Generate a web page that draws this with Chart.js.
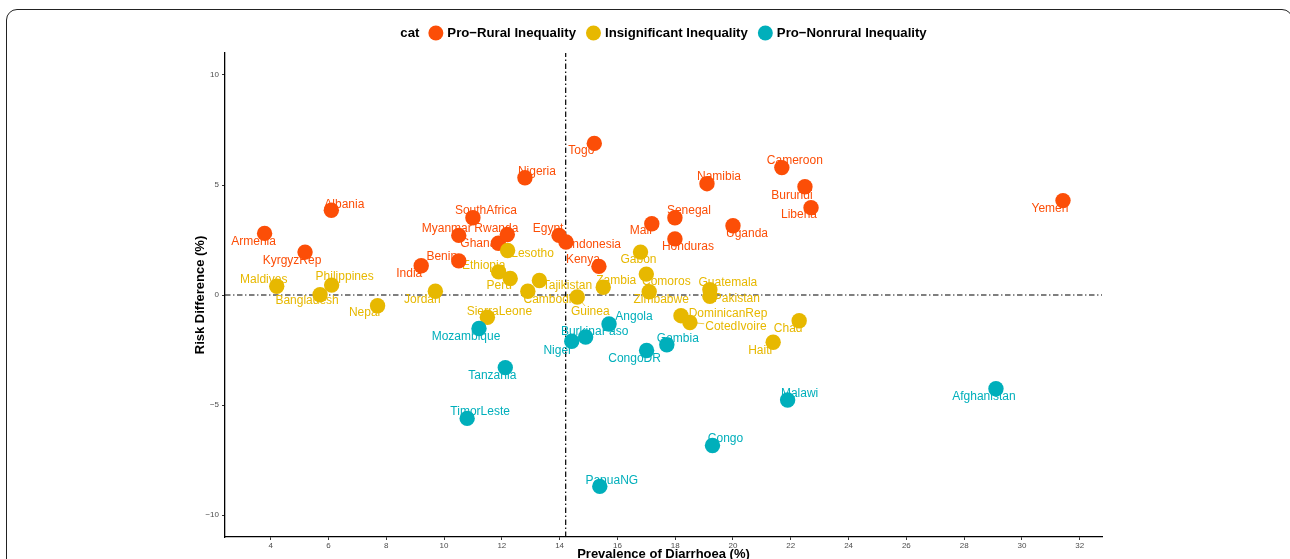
<!DOCTYPE html>
<html>
<head>
<meta charset="utf-8">
<title>Risk difference vs prevalence of diarrhoea</title>
<script src="https://cdn.jsdelivr.net/npm/chart.js@4.4.1/dist/chart.umd.min.js"></script>
<style>
  html, body { margin: 0; padding: 0; background: #fff; overflow: hidden; }
  #wrap { position: relative; width: 1290px; height: 559px; overflow: hidden; }
  #frame { position: absolute; left: 6px; top: 9px; width: 1287px; height: 620px;
           border: 1.5px solid #222; border-radius: 11px; box-sizing: border-box; }
  #chart { position: absolute; left: 0; top: 0; }
</style>
</head>
<body>
<div id="wrap">
  <div id="frame"></div>
  <canvas id="chart" width="1290" height="559"></canvas>
</div>
<script>
// ---- data ----------------------------------------------------------------
const categoryTitle = 'cat';
const categories = ['Pro−Rural Inequality', 'Insignificant Inequality', 'Pro−Nonrural Inequality'];

const ruralCountries  = ['Armenia', 'KyrgyzRep', 'Albania', 'India', 'Benin', 'Myanmar', 'SouthAfrica', 'Ghana',
                         'Rwanda', 'Nigeria', 'Egypt', 'Indonesia', 'Togo', 'Kenya', 'Mali', 'Senegal', 'Honduras',
                         'Namibia', 'Uganda', 'Cameroon', 'Burundi', 'Liberia', 'Yemen'];
const ruralPrevalence = [3.79, 5.19, 6.10, 9.21, 10.51, 10.51, 11.00, 11.88,
                         12.19, 12.80, 13.98, 14.22, 15.20, 15.36, 17.19, 17.99, 17.99,
                         19.10, 20.00, 21.69, 22.49, 22.70, 31.42];
const ruralRiskDiff   = [2.80, 1.95, 3.85, 1.33, 1.55, 2.71, 3.51, 2.35,
                         2.75, 5.33, 2.71, 2.41, 6.89, 1.30, 3.24, 3.51, 2.55,
                         5.06, 3.15, 5.79, 4.92, 3.97, 4.29];

const insigCountries  = ['Maldives', 'Bangladesh', 'Philippines', 'Nepal', 'Jordan', 'Ethiopia', 'Lesotho', 'Peru',
                         'Cambodia', 'Tajikistan', 'Guinea', 'SierraLeone', 'Zambia', 'Gabon', 'Comoros', 'Zimbabwe',
                         'Guatemala', 'Pakistan', 'DominicanRep', 'CotedIvoire', 'Chad', 'Haiti'];
const insigPrevalence = [4.21, 5.71, 6.11, 7.70, 9.70, 11.89, 12.20, 12.29,
                         12.90, 13.30, 14.61, 11.50, 15.51, 16.80, 17.00, 17.10,
                         19.20, 19.20, 18.20, 18.51, 22.29, 21.39];
const insigRiskDiff   = [0.40, 0.01, 0.45, -0.49, 0.17, 1.05, 2.02, 0.75,
                         0.17, 0.66, -0.09, -1.01, 0.35, 1.95, 0.95, 0.15,
                         0.24, -0.06, -0.94, -1.25, -1.17, -2.15];

const nonruralCountries  = ['Mozambique', 'Tanzania', 'TimorLeste', 'Niger', 'BurkinaFaso', 'Angola', 'CongoDR',
                            'Gambia', 'PapuaNG', 'Congo', 'Malawi', 'Afghanistan'];
const nonruralPrevalence = [11.21, 12.12, 10.80, 14.42, 14.90, 15.71, 17.01,
                            17.71, 15.39, 19.29, 21.89, 29.10];
const nonruralRiskDiff   = [-1.52, -3.30, -5.61, -2.10, -1.91, -1.32, -2.52,
                            -2.26, -8.70, -6.84, -4.77, -4.26];

// reference lines: mean prevalence and zero risk difference
const meanPrevalence = 14.21;
const zeroRiskDiff = 0;

const xTicks = [4, 6, 8, 10, 12, 14, 16, 18, 20, 22, 24, 26, 28, 30, 32];
const yTicks = [-10, -5, 0, 5, 10];

// ---- styling ---------------------------------------------------------------
const palette = ['#FC4E07', '#E7B800', '#00AFBB'];
const FONT = '"Liberation Sans", Arial, Helvetica, sans-serif';

// label placement: offset of label centre from its point, in pixels
const labelShift = {
  Armenia: [-11, 8], KyrgyzRep: [-13, 9], Albania: [13, -6], India: [-12, 8], Benin: [-17, -4],
  Myanmar: [-12, -7], SouthAfrica: [13, -7], Ghana: [-20, 0], Rwanda: [-11, -6], Nigeria: [12, -6],
  Egypt: [-11, -7], Indonesia: [29, 3], Togo: [-13, 7], Kenya: [-16, -7], Mali: [-11, 7],
  Senegal: [14, -7], Honduras: [13, 8], Namibia: [12, -7], Uganda: [14, 8], Cameroon: [13, -7],
  Burundi: [-13, 9], Liberia: [-12, 7], Yemen: [-13, 8],
  Maldives: [-13, -7], Bangladesh: [-13, 6], Philippines: [13, -8], Nepal: [-13, 7], Jordan: [-13, 8],
  Ethiopia: [-15, -6], Lesotho: [25, 3], Peru: [-11, 7], Cambodia: [23, 8], Tajikistan: [28, 5],
  Guinea: [13, 15], SierraLeone: [12, -6], Zambia: [13, -7], Gabon: [-2, 8], Comoros: [20, 8],
  Zimbabwe: [12, 8], Guatemala: [18, -7], Pakistan: [27, 2], DominicanRep: [47, -2],
  CotedIvoire: [46, 4], Chad: [-11, 8], Haiti: [-13, 8],
  Mozambique: [-13, 8], Tanzania: [-13, 8], TimorLeste: [13, -7], Niger: [-14, 9], BurkinaFaso: [9, -5],
  Angola: [25, -7], Gambia: [11, -6], CongoDR: [-12, 8], PapuaNG: [12, -6], Congo: [13, -7],
  Malawi: [12, -6], Afghanistan: [-12, 8]
};
// labels joined to their point by a short leader line
const leaderLines = ['Guinea', 'CotedIvoire'];

const minus = v => String(v).replace('-', '\u2212');

function toPoints(xs, ys, names) {
  return xs.map((x, i) => ({ x: x, y: ys[i], name: names[i] }));
}

const groups = [
  { names: ruralCountries,    xs: ruralPrevalence,    ys: ruralRiskDiff },
  { names: insigCountries,    xs: insigPrevalence,    ys: insigRiskDiff },
  { names: nonruralCountries, xs: nonruralPrevalence, ys: nonruralRiskDiff }
];

const datasets = groups.map((g, i) => ({
  label: categories[i],
  data: toPoints(g.xs, g.ys, g.names),
  backgroundColor: palette[i],
  borderWidth: 0,
  pointRadius: 7.7,
  pointHoverRadius: 7.7,
  order: 3 - i
}));

// ---- plugins ---------------------------------------------------------------
const referenceAndLabels = {
  id: 'referenceAndLabels',
  beforeDatasetsDraw(chart) {
    const { ctx, chartArea: a, scales: { x, y } } = chart;
    ctx.save();
    // dot-dash reference lines
    ctx.strokeStyle = '#000';
    ctx.lineWidth = 1.2;
    ctx.setLineDash([5.5, 2.6, 1.3, 2.6]);
    const vx = x.getPixelForValue(meanPrevalence);
    ctx.beginPath(); ctx.moveTo(vx, a.bottom); ctx.lineTo(vx, a.top); ctx.stroke();
    const hy = y.getPixelForValue(zeroRiskDiff);
    ctx.beginPath(); ctx.moveTo(a.left, hy); ctx.lineTo(a.right, hy); ctx.stroke();
    ctx.setLineDash([]);

    // point labels
    ctx.font = '12px ' + FONT;
    ctx.textAlign = 'center';
    ctx.textBaseline = 'middle';
    chart.data.datasets.forEach((ds, di) => {
      ds.data.forEach(p => {
        const px = x.getPixelForValue(p.x), py = y.getPixelForValue(p.y);
        const s = labelShift[p.name] || [0, -12];
        const lx = px + s[0], ly = py + s[1];
        ctx.fillStyle = palette[di];
        ctx.fillText(p.name, lx, ly);
        if (leaderLines.includes(p.name)) {
          const w = ctx.measureText(p.name).width / 2 + 1, h = 6;
          // end the leader where it meets the label box
          const dx = px - lx, dy = py - ly;
          const t = Math.min(Math.abs(w / (dx || 1e-6)), Math.abs(h / (dy || 1e-6)));
          ctx.strokeStyle = palette[di];
          ctx.lineWidth = 0.7;
          ctx.beginPath();
          ctx.moveTo(px, py);
          ctx.lineTo(lx + dx * t, ly + dy * t);
          ctx.stroke();
        }
      });
    });
    ctx.restore();
  }
};

const keyLegend = {
  id: 'keyLegend',
  afterDraw(chart) {
    const { ctx, chartArea: a } = chart;
    ctx.save();
    ctx.font = 'bold 13.2px ' + FONT;
    ctx.textBaseline = 'middle';
    ctx.textAlign = 'left';
    const r = 7.5, gapBefore = 9, gapAfter = 4, gapItem = 10;
    const titleW = ctx.measureText(categoryTitle).width;
    const widths = categories.map(c => ctx.measureText(c).width);
    let total = titleW;
    widths.forEach((w, i) => { total += (i === 0 ? gapBefore : gapItem) + 2 * r + gapAfter + w; });
    let cx = (a.left + a.right) / 2 - total / 2;
    const cy = 33;
    ctx.fillStyle = '#000';
    ctx.fillText(categoryTitle, cx, cy);
    cx += titleW;
    categories.forEach((c, i) => {
      cx += (i === 0 ? gapBefore : gapItem);
      ctx.fillStyle = palette[i];
      ctx.beginPath(); ctx.arc(cx + r, cy, r, 0, Math.PI * 2); ctx.fill();
      cx += 2 * r + gapAfter;
      ctx.fillStyle = '#000';
      ctx.fillText(c, cx, cy);
      cx += widths[i];
    });
    ctx.restore();
  }
};

// ---- chart -----------------------------------------------------------------
new Chart(document.getElementById('chart'), {
  type: 'scatter',
  data: { datasets: datasets },
  options: {
    responsive: false,
    animation: false,
    devicePixelRatio: 1,
    layout: { padding: { left: 190, right: 188, top: 53, bottom: 0 } },
    plugins: {
      legend: { display: false },
      tooltip: { enabled: false }
    },
    events: [],
    scales: {
      x: {
        type: 'linear',
        min: 2.42,
        max: 32.77,
        afterBuildTicks: s => { s.ticks = xTicks.map(v => ({ value: v })); },
        afterFit: s => { s.height = 22; },
        grid: { drawOnChartArea: false, drawTicks: true, tickLength: 3, tickColor: '#333', tickWidth: 1 },
        border: { display: true, color: '#000', width: 1.3 },
        ticks: {
          font: { size: 8, family: FONT }, color: '#4d4d4d', padding: 1,
          maxRotation: 0, autoSkip: false, callback: v => minus(v)
        },
        title: {
          display: true, text: 'Prevalence of Diarrhoea (%)', color: '#000',
          font: { size: 13, weight: 'bold', family: FONT }, padding: { top: 0, bottom: -3 }
        }
      },
      y: {
        type: 'linear',
        min: -11,
        max: 11,
        afterBuildTicks: s => { s.ticks = yTicks.map(v => ({ value: v })); },
        afterFit: s => { s.width = 35; },
        grid: { drawOnChartArea: false, drawTicks: true, tickLength: 3, tickColor: '#333', tickWidth: 1 },
        border: { display: true, color: '#000', width: 1.3 },
        ticks: {
          font: { size: 8, family: FONT }, color: '#4d4d4d', padding: 3,
          autoSkip: false, callback: v => minus(v)
        },
        title: {
          display: true, text: 'Risk Difference (%)', color: '#000',
          font: { size: 13, weight: 'bold', family: FONT }, padding: { top: 3, bottom: 0 }
        }
      }
    }
  },
  plugins: [referenceAndLabels, keyLegend]
});
</script>
</body>
</html>
